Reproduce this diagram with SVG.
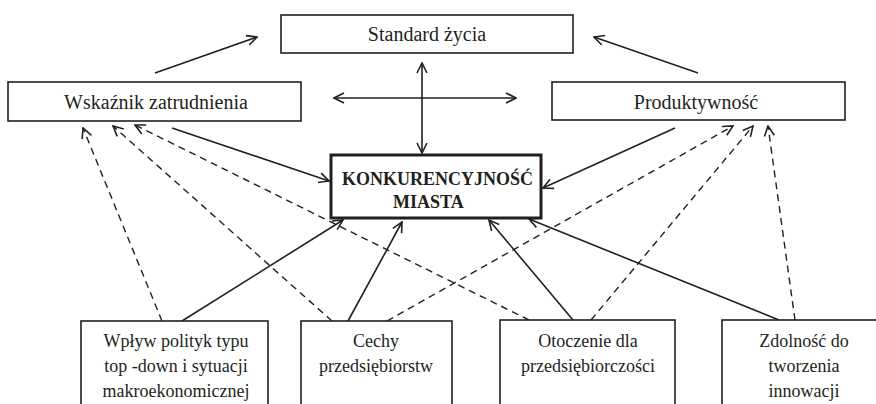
<svg xmlns="http://www.w3.org/2000/svg" width="876" height="404" viewBox="0 0 876 404">
<style>
.box{fill:#fff;stroke:#231f20;stroke-width:1.6}
.main{fill:#fff;stroke:#231f20;stroke-width:3}
text{font-family:'Liberation Serif','Times New Roman',serif;fill:#231f20}
.t{font-size:18px;text-anchor:middle}
.h{font-size:20px;text-anchor:middle}
.b{font-size:18px;font-weight:bold}
.ln{fill:none;stroke:#231f20;stroke-width:1.6;marker-end:url(#ah)}
.dl{fill:none;stroke:#231f20;stroke-width:1.4;stroke-dasharray:7 5;marker-end:url(#ah)}
.dbl{marker-start:url(#ah)}
</style>
<defs>
<marker id="ah" viewBox="0 0 12 12" refX="11" refY="6" markerWidth="12" markerHeight="12" markerUnits="userSpaceOnUse" orient="auto-start-reverse">
<path d="M1,1 L11,6 L1,11" fill="none" stroke="#231f20" stroke-width="1.6"/>
</marker>
</defs>
<g id="connectors">
<path class="ln" d="M155,73 L257,37"/>
<path class="ln" d="M698,73 L594,37"/>
<path class="ln dbl" d="M334,98 L516,98"/>
<path class="ln dbl" d="M422,63 L422,153"/>
<path class="ln" d="M172,128 L329,181"/>
<path class="ln" d="M675,128 L543,188"/>
<path class="dl" d="M162,321 L83,128"/>
<path class="dl" d="M332,321 L113,126"/>
<path class="dl" d="M529,320 L135,125"/>
<path class="dl" d="M387,321 L733,126"/>
<path class="dl" d="M591,320 L753,126"/>
<path class="dl" d="M795,320 L768,126"/>
<path class="ln" d="M182,321 L343,220"/>
<path class="ln" d="M348,321 L402,222"/>
<path class="ln" d="M573,320 L489,220"/>
<path class="ln" d="M779,320 L529,219"/>
</g>
<g id="standard">
<rect class="box" x="281" y="15" width="292" height="38"/>
<text class="h" x="427" y="41">Standard życia</text>
</g>
<g id="wskaznik">
<rect class="box" x="8" y="82" width="293" height="39"/>
<text class="h" x="156" y="109">Wskaźnik zatrudnienia</text>
</g>
<g id="produktywnosc">
<rect class="box" x="552" y="82" width="293" height="38"/>
<text class="h" x="696" y="109">Produktywność</text>
</g>
<g id="konkurencyjnosc">
<rect class="main" x="331" y="155" width="210" height="63"/>
<text class="b" x="342" y="185">KONKURENCYJNOŚĆ</text>
<text class="b" x="393" y="208">MIASTA</text>
</g>
<g id="wplyw">
<rect class="box" x="81" y="321" width="187" height="100"/>
<text class="t" x="176" y="347">Wpływ polityk typu</text>
<text class="t" x="176" y="372">top -down i sytuacji</text>
<text class="t" x="176" y="397">makroekonomicznej</text>
</g>
<g id="cechy">
<rect class="box" x="301" y="321" width="151" height="100"/>
<text class="t" x="376" y="347">Cechy</text>
<text class="t" x="376" y="372">przedsiębiorstw</text>
</g>
<g id="otoczenie">
<rect class="box" x="500" y="320" width="175" height="100"/>
<text class="t" x="588" y="347">Otoczenie dla</text>
<text class="t" x="588" y="372">przedsiębiorczości</text>
</g>
<g id="zdolnosc">
<rect class="box" x="722" y="320" width="170" height="100"/>
<text class="t" x="804" y="347">Zdolność do</text>
<text class="t" x="804" y="372">tworzenia</text>
<text class="t" x="804" y="397">innowacji</text>
</g>
</svg>
